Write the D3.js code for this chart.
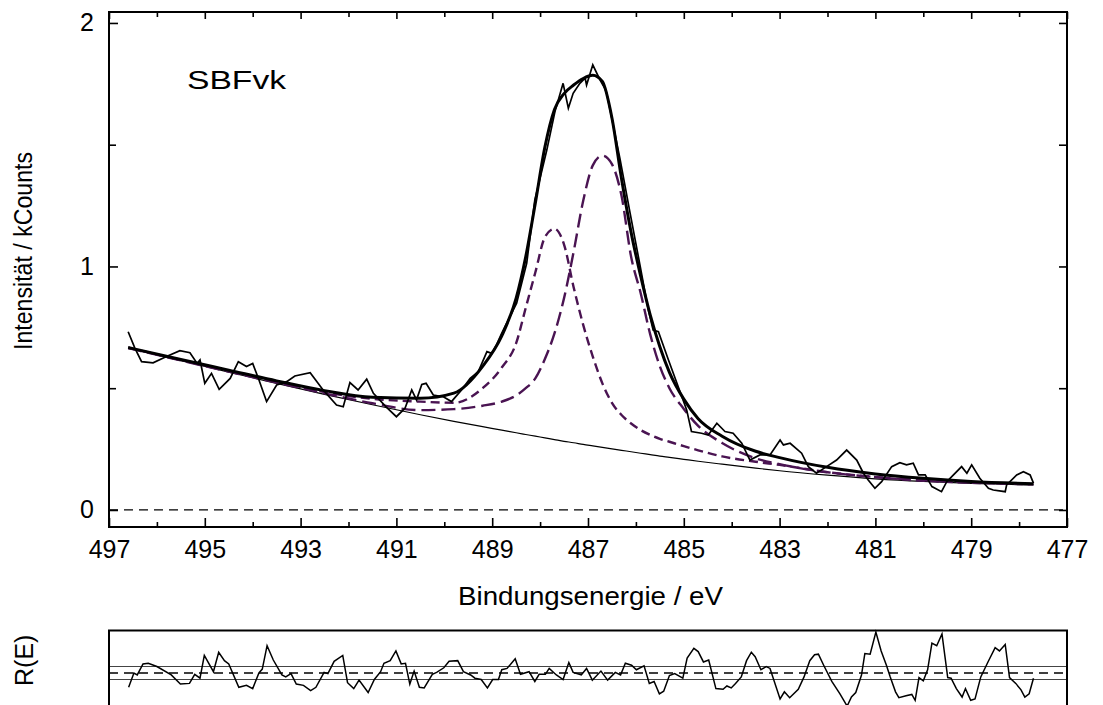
<!DOCTYPE html>
<html>

<head>
    <title>SBFvk XPS</title>
    <script src="https://d3js.org/d3.v7.min.js"></script>
    <style>
        body { margin: 0; background: #fff; }
        text { font-family: "Liberation Sans", Arial, sans-serif; fill: #000; }
    </style>
</head>

<body>

    <svg width="1103" height="705" id="mainSvg"></svg>
    <script>
        // measured spectrum (binding energy / eV, intensity / kCounts)
        const dataE = [496.60, 496.46, 496.32, 496.08, 495.80, 495.52, 495.31, 495.16, 495.10, 495.00,
            494.86, 494.70, 494.47, 494.30, 494.13, 494.00, 493.88, 493.71, 493.50, 493.29,
            493.12, 492.80, 492.53, 492.25, 492.11, 491.97, 491.80, 491.62, 491.48, 491.21,
            491.00, 490.82, 490.68, 490.58, 490.47, 490.38, 490.23, 490.02, 489.85, 489.64,
            489.46, 489.29, 489.11, 489.01, 488.91, 488.80, 488.63, 488.49, 488.28, 488.11,
            487.86, 487.69, 487.52, 487.41, 487.31, 487.17, 487.06, 487.03, 486.90, 486.75,
            486.65, 486.61, 486.51, 486.33, 486.12, 485.91, 485.74, 485.64, 485.53, 485.32,
            485.04, 484.94, 484.84, 484.63, 484.49, 484.31, 484.14, 483.97, 483.79, 483.62,
            483.41, 483.20, 482.99, 482.92, 482.78, 482.54, 482.40, 482.23, 482.02, 481.81,
            481.60, 481.39, 481.25, 481.15, 481.01, 480.87, 480.66, 480.49, 480.35, 480.21,
            480.10, 479.96, 479.82, 479.62, 479.51, 479.37, 479.20, 479.09, 478.99, 478.82,
            478.64, 478.54, 478.29, 478.26, 478.05, 477.91, 477.77, 477.70];
        const dataI = [0.732, 0.665, 0.609, 0.604, 0.630, 0.654, 0.646, 0.602, 0.616, 0.520,
            0.561, 0.495, 0.540, 0.609, 0.589, 0.602, 0.540, 0.445, 0.513, 0.527,
            0.550, 0.564, 0.493, 0.431, 0.424, 0.523, 0.493, 0.537, 0.479, 0.422,
            0.383, 0.418, 0.493, 0.452, 0.515, 0.520, 0.472, 0.465, 0.445, 0.493,
            0.541, 0.568, 0.650, 0.643, 0.678, 0.726, 0.794, 0.849, 1.013, 1.273,
            1.478, 1.636, 1.752, 1.650, 1.711, 1.752, 1.773, 1.745, 1.828, 1.766,
            1.732, 1.711, 1.615, 1.440, 1.218, 1.000, 0.821, 0.739, 0.732, 0.616,
            0.465, 0.411, 0.322, 0.315, 0.308, 0.356, 0.322, 0.315, 0.274, 0.205,
            0.226, 0.226, 0.287, 0.267, 0.274, 0.233, 0.178, 0.151, 0.178, 0.205,
            0.246, 0.205, 0.151, 0.123, 0.089, 0.116, 0.178, 0.194, 0.185, 0.192,
            0.144, 0.144, 0.096, 0.075, 0.116, 0.144, 0.178, 0.151, 0.185, 0.130,
            0.089, 0.082, 0.075, 0.103, 0.144, 0.157, 0.144, 0.110];

        // fit curves
        const fitE = [496.6, 495.5, 494.5, 493.5, 492.5, 491.5, 490.5, 489.8, 489.2, 488.8,
            488.5, 488.3, 488.1, 487.9, 487.7, 487.5, 487.3, 487.1, 486.9, 486.7,
            486.5, 486.3, 486.1, 485.9, 485.7, 485.5, 485.3, 485.0, 484.7, 484.2,
            483.5, 483.0, 482.0, 481.0, 480.0, 479.0, 477.7];
        const envelope = [0.667, 0.618, 0.574, 0.530, 0.490, 0.463, 0.459, 0.480, 0.590, 0.715,
            0.870, 1.040, 1.260, 1.490, 1.645, 1.710, 1.745, 1.772, 1.785, 1.760,
            1.610, 1.360, 1.140, 0.960, 0.800, 0.670, 0.565, 0.455, 0.375, 0.303,
            0.241, 0.215, 0.175, 0.148, 0.130, 0.117, 0.108];
        const background = [0.665, 0.613, 0.566, 0.520, 0.475, 0.432, 0.391, 0.364, 0.342, 0.328,
            0.317, 0.310, 0.303, 0.296, 0.289, 0.282, 0.276, 0.269, 0.263, 0.257,
            0.251, 0.245, 0.239, 0.233, 0.227, 0.221, 0.216, 0.208, 0.200, 0.188,
            0.172, 0.161, 0.143, 0.128, 0.117, 0.109, 0.103];
        const comp1 = [0.666, 0.616, 0.571, 0.527, 0.484, 0.456, 0.445, 0.440, 0.500, 0.585,
            0.685, 0.830, 0.975, 1.120, 1.155, 1.090, 0.915, 0.760, 0.630, 0.520,
            0.440, 0.390, 0.355, 0.328, 0.308, 0.292, 0.280, 0.262, 0.245, 0.220,
            0.198, 0.185, 0.155, 0.135, 0.120, 0.112, 0.105];
        const comp2 = [0.665, 0.614, 0.568, 0.523, 0.479, 0.438, 0.410, 0.414, 0.428, 0.445,
            0.470, 0.500, 0.540, 0.620, 0.725, 0.870, 1.060, 1.270, 1.415, 1.455,
            1.420, 1.290, 1.040, 0.890, 0.720, 0.590, 0.500, 0.415, 0.345, 0.275,
            0.212, 0.188, 0.155, 0.135, 0.122, 0.113, 0.106];

        // residual R(E), in units of the band width
        const resE = [496.59, 496.48, 496.41, 496.29, 496.18, 496.00, 495.70, 495.51, 495.32, 495.21,
            495.10, 495.01, 494.82, 494.71, 494.59, 494.50, 494.29, 494.13, 494.00, 493.87,
            493.80, 493.70, 493.57, 493.39, 493.31, 493.20, 493.09, 492.94, 492.79, 492.68,
            492.51, 492.43, 492.30, 492.12, 492.02, 491.89, 491.78, 491.59, 491.46, 491.33,
            491.26, 491.13, 491.01, 490.90, 490.81, 490.72, 490.63, 490.52, 490.42, 490.25,
            490.16, 490.01, 489.90, 489.72, 489.60, 489.45, 489.36, 489.23, 489.10, 488.99,
            488.87, 488.80, 488.69, 488.52, 488.41, 488.23, 488.11, 488.02, 487.89, 487.81,
            487.66, 487.52, 487.40, 487.31, 487.14, 487.03, 486.91, 486.73, 486.59, 486.43,
            486.32, 486.22, 486.09, 485.99, 485.83, 485.72, 485.62, 485.51, 485.42, 485.30,
            485.19, 485.02, 484.93, 484.79, 484.70, 484.59, 484.48, 484.33, 484.18, 484.10,
            484.01, 483.92, 483.80, 483.69, 483.59, 483.51, 483.39, 483.28, 483.20, 482.99,
            482.90, 482.79, 482.61, 482.49, 482.37, 482.27, 482.19, 482.08, 481.91, 481.74,
            481.59, 481.50, 481.41, 481.29, 481.22, 481.11, 480.99, 480.88, 480.77, 480.69,
            480.58, 480.51, 480.36, 480.24, 480.17, 480.09, 480.00, 479.91, 479.82, 479.72,
            479.61, 479.49, 479.42, 479.31, 479.19, 479.12, 479.01, 478.92, 478.80, 478.65,
            478.50, 478.41, 478.29, 478.20, 478.07, 477.96, 477.88, 477.79, 477.70];
        const resR = [-2.2, 0.0, -0.3, 1.4, 1.5, 1.0, -0.3, -1.7, -1.6, -0.2,
            -0.8, 2.7, 0.2, 3.2, 1.9, 1.4, -2.2, -1.9, -2.4, 0.0,
            0.6, 4.2, 2.0, -0.3, -0.6, -0.1, -1.7, -1.9, -2.7, -2.2,
            0.1, -0.1, 1.8, 2.7, -1.5, -2.4, -1.1, -3.0, -1.0, 0.2,
            1.5, 1.9, 3.4, 1.4, 1.5, -1.7, 0.3, -2.2, -2.3, -0.2,
            0.1, 0.8, 1.8, 1.9, 0.2, -0.3, -0.8, -1.0, -2.3, -1.0,
            -1.0, 0.5, 0.7, 2.2, -0.2, 0.2, -1.3, -0.2, -0.2, 0.7,
            -0.3, -1.0, 1.6, 0.1, -0.3, 0.7, -1.1, 0.3, -1.1, 0.1,
            -0.3, 1.5, 1.2, 0.5, 1.1, -1.6, -1.3, -3.2, -2.8, -0.4,
            -0.1, -0.8, 2.3, 3.8, 3.3, 1.7, 2.0, -2.4, -2.5, -2.0,
            -2.3, -1.6, -0.6, 1.9, 3.2, 2.5, 0.5, 1.0, 0.7, -4.0,
            -2.9, -3.8, -2.5, -0.6, 1.9, 2.8, 2.9, 1.2, -1.3, -3.2,
            -5.1, -3.7, -3.0, -0.3, 3.0, 2.9, 6.3, 3.4, 1.2, -0.6,
            -2.9, -3.8, -3.5, -3.3, -4.2, -0.7, -1.2, 0.5, 4.6, 4.2,
            6.0, -0.7, -0.8, -2.4, -3.7, -2.4, -4.2, -4.0, -0.6, 1.7,
            3.9, 3.4, 4.4, -0.7, -1.6, -2.6, -3.7, -3.2, -0.8];

        const xMajor = [497, 495, 493, 491, 489, 487, 485, 483, 481, 479, 477];
        const xMinor = [496, 494, 492, 490, 488, 486, 484, 482, 480, 478];
        const yMajor = [0, 1, 2];
        const yMinor = [0.5, 1.5];

        const purple = "#4a1452";
        const svg = d3.select("#mainSvg");

        const pLeft = 109, pRight = 1067, pTop = 12, pBottom = 527;
        const x = d3.scaleLinear().domain([497, 477]).range([pLeft, pRight]);
        const y = d3.scaleLinear().domain([-0.07, 2.045]).range([pBottom, pTop]);

        // residual panel: zero at 673, band +-1 about 6.5 px
        const rTop = 630.5, rBottom = 722;
        const yr = d3.scaleLinear().domain([-7.54, 6.54]).range([rBottom, rTop]);

        // zero line
        svg.append("line")
            .attr("x1", pLeft).attr("x2", pRight)
            .attr("y1", y(0)).attr("y2", y(0))
            .attr("stroke", "#000").attr("stroke-width", 1.3)
            .attr("stroke-dasharray", "9,6");

        const fitLine = arr => d3.line()
            .x((d, i) => x(fitE[i]))
            .y((d, i) => y(arr[i]))
            .curve(d3.curveMonotoneX)(arr);

        // background
        svg.append("path")
            .attr("d", fitLine(background))
            .attr("fill", "none").attr("stroke", "#000").attr("stroke-width", 1.2);

        // components
        svg.append("path")
            .attr("d", fitLine(comp1))
            .attr("fill", "none").attr("stroke", purple).attr("stroke-width", 2.4)
            .attr("stroke-dasharray", "9,5");
        svg.append("path")
            .attr("d", fitLine(comp2))
            .attr("fill", "none").attr("stroke", purple).attr("stroke-width", 2.4)
            .attr("stroke-dasharray", "14,6");

        // envelope
        svg.append("path")
            .attr("d", fitLine(envelope))
            .attr("fill", "none").attr("stroke", "#000").attr("stroke-width", 3);

        // measured data
        const dataLine = d3.line()
            .x((d, i) => x(dataE[i]))
            .y((d, i) => y(dataI[i]));
        svg.append("path")
            .attr("d", dataLine(dataI))
            .attr("fill", "none").attr("stroke", "#000").attr("stroke-width", 1.7)
            .attr("stroke-linejoin", "miter");

        // axes, ticks pointing inward
        const axG = svg.append("g");
        axG.append("g").attr("transform", `translate(0,${pBottom})`)
            .call(d3.axisBottom(x).tickValues(xMajor).tickSize(-9).tickPadding(13).tickFormat(d3.format("d")));
        axG.append("g").attr("transform", `translate(0,${pBottom})`)
            .call(d3.axisBottom(x).tickValues(xMinor).tickSize(-5).tickFormat(""));
        axG.append("g").attr("transform", `translate(0,${pTop})`)
            .call(d3.axisTop(x).tickValues(xMajor).tickSize(-7).tickFormat(""));
        axG.append("g").attr("transform", `translate(0,${pTop})`)
            .call(d3.axisTop(x).tickValues(xMinor).tickSize(-5).tickFormat(""));
        axG.append("g").attr("transform", `translate(${pLeft},0)`)
            .call(d3.axisLeft(y).tickValues(yMajor).tickSize(-9).tickPadding(15).tickFormat(d3.format("d")));
        axG.append("g").attr("transform", `translate(${pLeft},0)`)
            .call(d3.axisLeft(y).tickValues(yMinor).tickSize(-7).tickFormat(""));
        axG.append("g").attr("transform", `translate(${pRight},0)`)
            .call(d3.axisRight(y).tickValues(yMajor.concat(yMinor)).tickSize(-8).tickFormat(""));
        axG.selectAll(".domain").remove();
        axG.selectAll(".tick line").attr("stroke", "#000").attr("stroke-width", 1.6);
        axG.selectAll(".tick text")
            .attr("font-family", "Liberation Sans, Arial, sans-serif")
            .attr("font-size", 25)
            .attr("fill", "#000");

        svg.append("rect")
            .attr("x", pLeft).attr("y", pTop)
            .attr("width", pRight - pLeft).attr("height", pBottom - pTop)
            .attr("fill", "none").attr("stroke", "#000").attr("stroke-width", 2);

        // labels
        svg.append("text")
            .attr("x", 187).attr("y", 89)
            .attr("font-size", 25)
            .attr("textLength", 99).attr("lengthAdjust", "spacingAndGlyphs")
            .text("SBFvk");

        svg.append("text")
            .attr("x", 458).attr("y", 605)
            .attr("font-size", 25)
            .attr("textLength", 265).attr("lengthAdjust", "spacingAndGlyphs")
            .text("Bindungsenergie / eV");

        svg.append("text")
            .attr("transform", "translate(32,350) rotate(-90)")
            .attr("font-size", 25)
            .attr("textLength", 198).attr("lengthAdjust", "spacingAndGlyphs")
            .text("Intensität / kCounts");

        // residual panel
        const resG = svg.append("g");
        resG.append("line")
            .attr("x1", pLeft).attr("x2", pRight)
            .attr("y1", yr(0)).attr("y2", yr(0))
            .attr("stroke", "#000").attr("stroke-width", 1.3)
            .attr("stroke-dasharray", "9,6");
        [1, -1].forEach(v => {
            resG.append("line")
                .attr("x1", pLeft).attr("x2", pRight)
                .attr("y1", yr(v)).attr("y2", yr(v))
                .attr("stroke", "#444").attr("stroke-width", 1.1);
        });
        const resLine = d3.line()
            .x((d, i) => x(resE[i]))
            .y((d, i) => yr(resR[i]));
        resG.append("path")
            .attr("d", resLine(resR))
            .attr("fill", "none").attr("stroke", "#000").attr("stroke-width", 1.5);
        resG.append("rect")
            .attr("x", pLeft).attr("y", rTop)
            .attr("width", pRight - pLeft).attr("height", rBottom - rTop)
            .attr("fill", "none").attr("stroke", "#000").attr("stroke-width", 2);

        svg.append("text")
            .attr("transform", "translate(33,686) rotate(-90)")
            .attr("font-size", 25)
            .text("R(E)");
    </script>
</body>

</html>
